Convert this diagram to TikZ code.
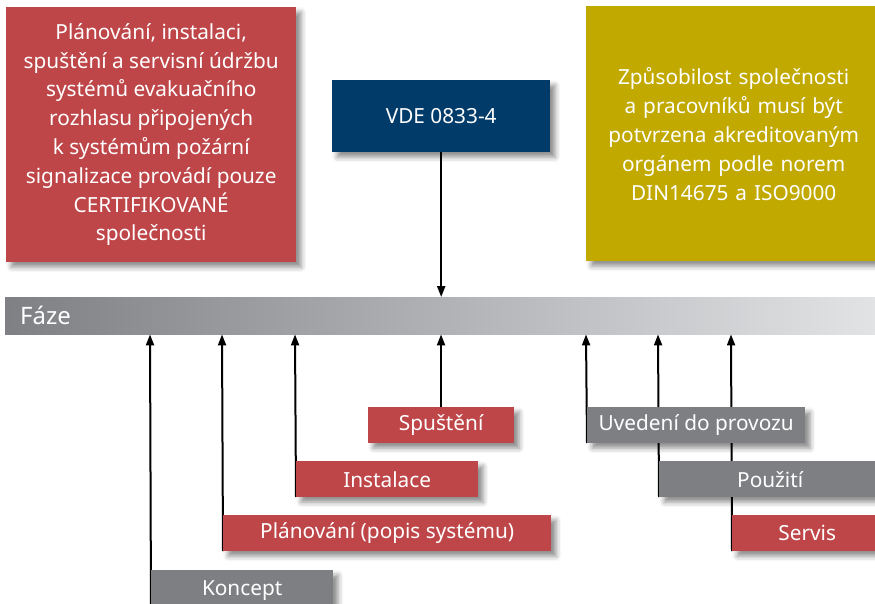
\documentclass[tikz,border=0pt]{standalone}
\usepackage{fontspec}
\setmainfont{Noto Sans}
\usetikzlibrary{shadows.blur,arrows.meta}
\definecolor{bred}{HTML}{BE4649}
\definecolor{bblue}{HTML}{003B6A}
\definecolor{byellow}{HTML}{C1A900}
\definecolor{bgray}{HTML}{7E7F83}
\definecolor{barleft}{HTML}{7F8084}
\definecolor{barright}{HTML}{E2E3E5}
\begin{document}
\begin{tikzpicture}[x=1pt,y=-1pt,
  box/.style={anchor=north west, inner sep=0pt, text=white,
    font=\fontsize{20.8}{28.8}\selectfont, align=center,
    blur shadow={shadow xshift=5pt, shadow yshift=-5pt, shadow blur radius=5pt, shadow opacity=45}},
  redbox/.style={box, fill=bred},
  graybox/.style={box, fill=bgray},
  arr/.style={line width=2pt, -{Triangle[length=11pt,width=8pt]}}]
\useasboundingbox (0,0) rectangle (875,604);
% phase bar
\node[anchor=north west, inner sep=0pt, minimum width=870pt, minimum height=37pt,
  left color=barleft, right color=barright] (bar) at (5,297) {};
\node[anchor=west, inner sep=0pt, text=white, font=\fontsize{24}{28}\selectfont] (faze) at (20,315) {Fáze};
% anchor points of the phase boxes
\path (150,570) coordinate (kc) (222,515) coordinate (pl) (295,461) coordinate (in)
      (441,407) coordinate (sp) (586,407) coordinate (uv) (658,461) coordinate (po) (731,515) coordinate (se);
\draw[arr] (kc) ++(1,40) -- (kc |- bar.south);
\draw[arr] (pl) ++(1,36) -- (pl |- bar.south);
\draw[arr] (in) ++(1,36) -- (in |- bar.south);
\draw[arr] (sp) -- (sp |- bar.south);
\draw[arr] (uv) ++(1,36) -- (uv |- bar.south);
\draw[arr] (po) ++(1,36) -- (po |- bar.south);
\draw[arr] (se) ++(1,36) -- (se |- bar.south);
% top boxes
\node[redbox, minimum width=290pt, minimum height=255pt] (cert) at (6,7)
  {Plánování, instalaci,\\spuštění a servisní údržbu\\systémů evakuačního\\rozhlasu připojených\\k systémům požární\\signalizace provádí pouze\\CERTIFIKOVANÉ\\společnosti};
\node[box, fill=bblue, minimum width=218pt, minimum height=72pt] (vde) at (332,80) {VDE 0833-4};
\node[box, fill=byellow, minimum width=295pt, minimum height=255pt, text width=289pt,
  font=\fontsize{20.8}{29}\selectfont] (akr) at (586,6)
  {Způsobilost společnosti\\a pracovníků musí být\\potvrzena akreditovaným\\orgánem podle norem\\DIN14675 a ISO9000};
\draw[arr] (vde.south) -- (vde.south |- bar.north);
% phase boxes
\node[redbox, minimum width=146pt, minimum height=36pt] (spust) at (368,407) {Spuštění};
\node[redbox, minimum width=182pt, minimum height=36pt] (inst) at (296,461) {Instalace};
\node[redbox, minimum width=328pt, minimum height=36pt] (plan) at (223,515) {Plánování (popis systému)};
\node[graybox, minimum width=182pt, minimum height=40pt] (konc) at (151,570) {Koncept};
\node[graybox, minimum width=218pt, minimum height=36pt] (uved) at (587,407) {Uvedení do provozu};
\node[graybox, minimum width=222pt, minimum height=36pt, text width=217pt] (pouz) at (659,461) {Použití};
\node[redbox, minimum width=150pt, minimum height=36pt, text width=144pt] (serv) at (732,515) {Servis};
\end{tikzpicture}
\end{document}
